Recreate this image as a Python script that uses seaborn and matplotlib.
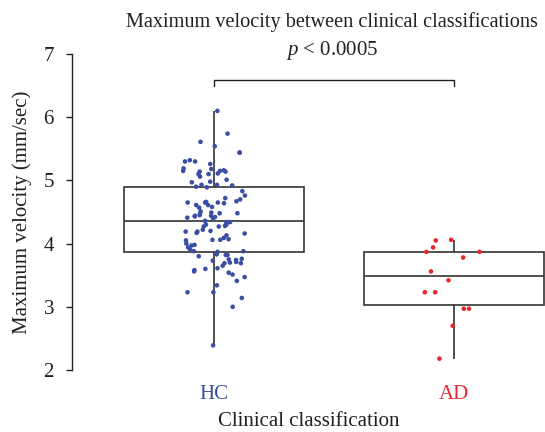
import numpy as np
import pandas as pd
import matplotlib
matplotlib.use("Agg")
import matplotlib.pyplot as plt
import seaborn as sns

categories = ["HC", "AD"]
hc_values = [6.10, 5.74, 5.61, 5.54, 5.44, 5.44, 5.32, 5.30, 5.30, 5.26, 5.19, 5.18, 5.16, 5.14,
             5.14, 5.15, 5.15, 5.11, 5.10, 5.10, 5.06, 5.01, 4.98, 4.97, 4.93, 4.92, 4.93, 4.90,
             4.89, 4.83, 4.76, 4.72, 4.70, 4.67, 4.66, 4.65, 4.64, 4.65, 4.65, 4.61, 4.61, 4.58,
             4.57, 4.51, 4.49, 4.48, 4.48, 4.47, 4.45, 4.44, 4.44, 4.43, 4.42, 4.41, 4.40, 4.36,
             4.34, 4.34, 4.34, 4.30, 4.30, 4.28, 4.27, 4.27, 4.22, 4.20, 4.19, 4.19, 4.16, 4.17,
             4.13, 4.09, 4.07, 4.06, 4.06, 4.05, 4.00, 3.98, 3.97, 3.94, 3.91, 3.87, 3.88, 3.88,
             3.82, 3.83, 3.82, 3.80, 3.76, 3.74, 3.75, 3.73, 3.71, 3.70, 3.69, 3.69, 3.65, 3.60,
             3.61, 3.58, 3.56, 3.54, 3.51, 3.47, 3.41, 3.34, 3.23, 3.23, 3.14, 3.00, 2.39]
ad_values = [4.06, 4.05, 3.94, 3.87, 3.87, 3.78, 3.56, 3.42, 3.23, 3.23, 2.97, 2.97, 2.70, 2.18]
yticks = [2, 3, 4, 5, 6, 7]
colors = {"HC": "#3a4ea3", "AD": "#e8262e"}

df = pd.DataFrame({
    "group": ["HC"] * len(hc_values) + ["AD"] * len(ad_values),
    "v": hc_values + ad_values,
})

sns.set_style("white")
plt.rcParams["font.family"] = ["Liberation Serif", "DejaVu Serif"]
plt.rcParams["mathtext.fontset"] = "custom"
plt.rcParams["mathtext.rm"] = "Liberation Serif"
plt.rcParams["mathtext.it"] = "Liberation Serif:italic"
text_color = "#231f20"
fs = 15

fig = plt.figure(figsize=(5.45, 4.32), dpi=100)
ax = fig.add_axes([72 / 545, 1 - 370 / 432, 1 - 72 / 545, (370 - 54) / 432])

sns.boxplot(data=df, x="group", y="v", order=categories, whis=(0, 100), width=0.75,
            color="white", saturation=1, linecolor="#333333", linewidth=1.2,
            showcaps=False, fliersize=0, ax=ax)
np.random.seed(3)
sns.stripplot(data=df, x="group", y="v", order=categories, hue="group", palette=colors,
              jitter=0.135, size=3.3, linewidth=0, legend=False, ax=ax, zorder=3)

ax.set_ylim(2, 7)
ax.set_xlim(-0.592, 1.379)
ax.set_yticks(yticks)
ax.set_yticklabels([str(t) for t in yticks], fontsize=fs, color=text_color)
for spine in ["top", "right", "bottom"]:
    ax.spines[spine].set_visible(False)
ax.spines["left"].set_color(text_color)
ax.spines["left"].set_linewidth(1.0)
ax.tick_params(axis="y", which="both", left=True, length=4, width=1, color=text_color, pad=9)
ax.tick_params(axis="x", bottom=False, pad=7)
ax.set_xticks([0, 1])
ax.set_xticklabels(categories, fontsize=fs)
for lbl, c in zip(ax.get_xticklabels(), categories):
    lbl.set_color(colors[c])
ax.set_xlabel("Clinical classification", fontsize=fs, color=text_color, labelpad=6)
ax.set_ylabel("Maximum velocity (mm/sec)", fontsize=fs, color=text_color, labelpad=8)

# significance bracket
ax.plot([0, 0, 1, 1], [6.49, 6.59, 6.59, 6.49], color=text_color, lw=1.0, clip_on=False)
fig.text(332 / 545, 1 - 22 / 432, "Maximum velocity between clinical classifications",
         ha="center", va="center", fontsize=14.6, color=text_color)
fig.text(332 / 545, 1 - 50 / 432, r"$p$ < 0.0005", ha="center", va="center",
         fontsize=fs, color=text_color)

fig.savefig("out.png", dpi=100)
